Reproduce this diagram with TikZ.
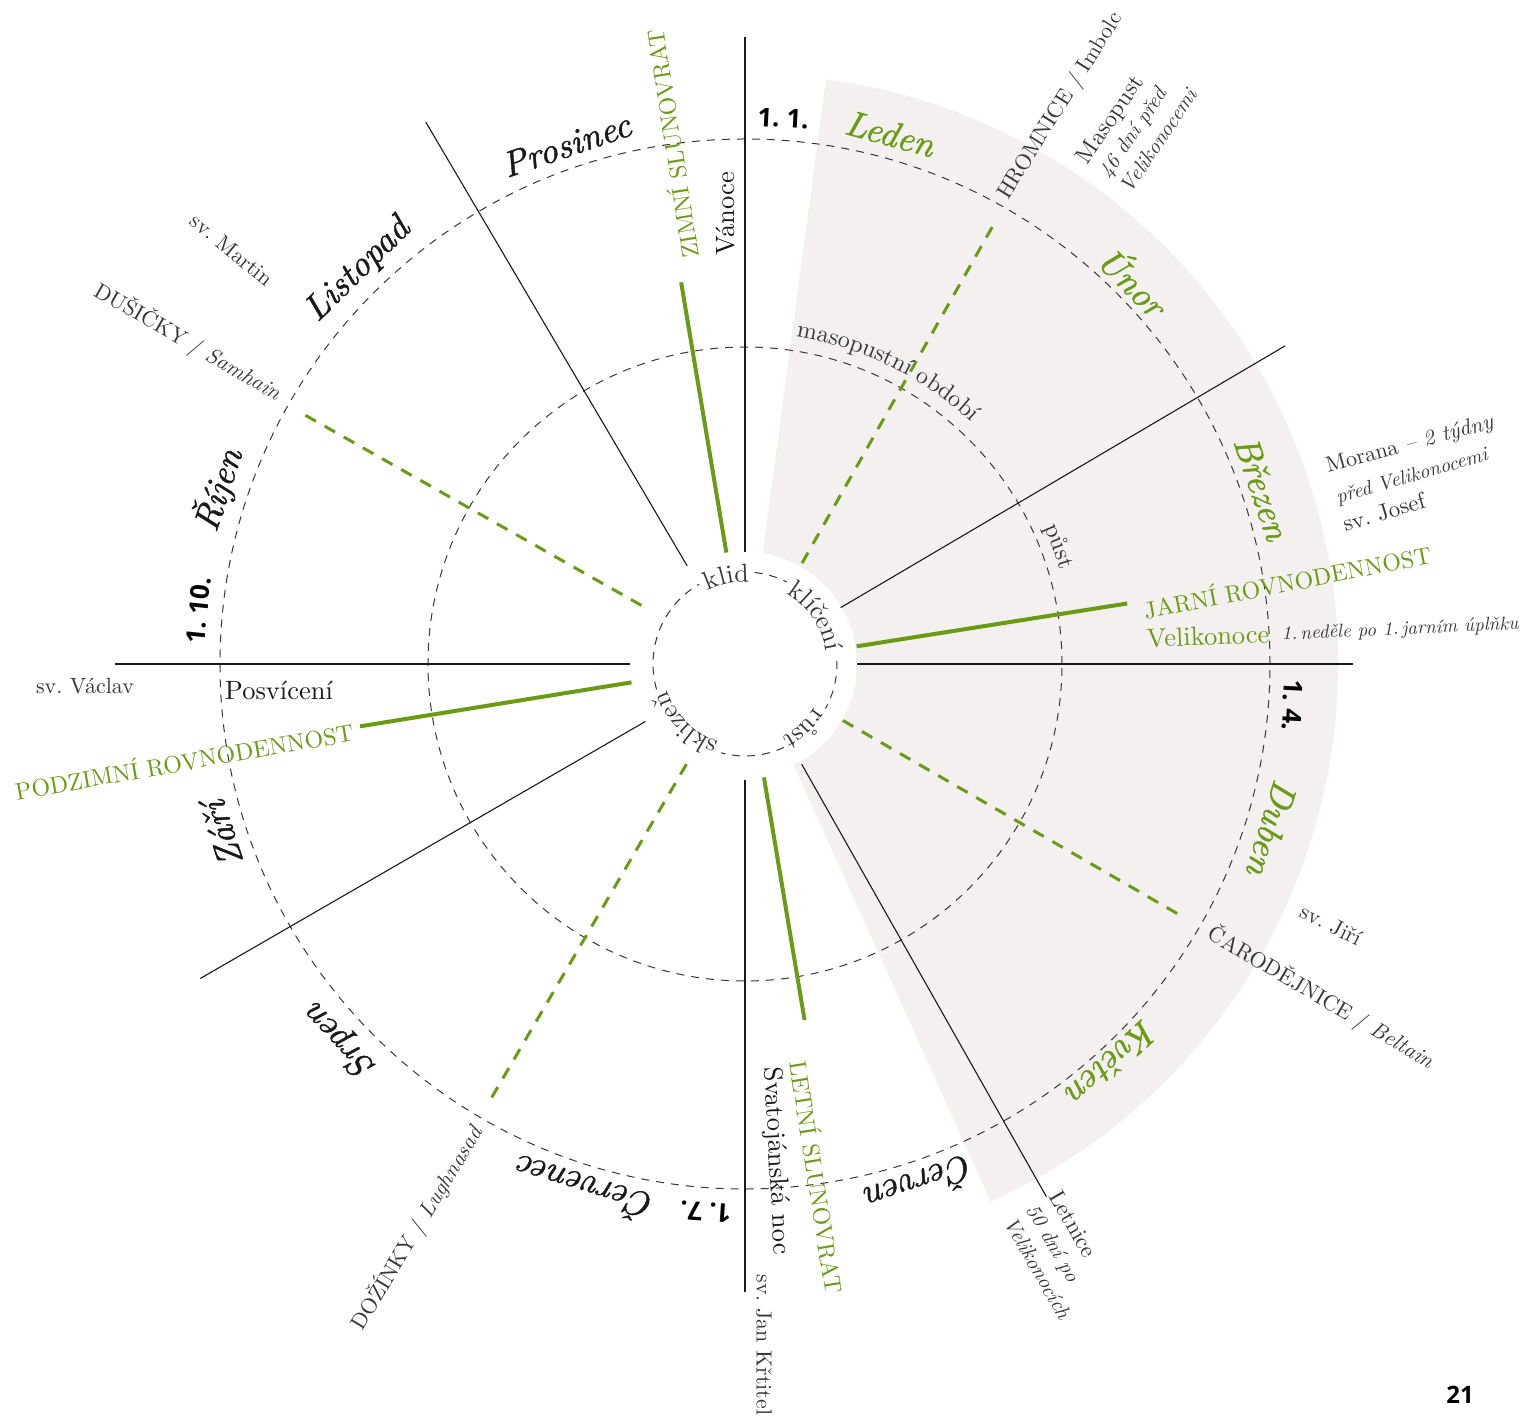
\documentclass[tikz,border=0pt]{standalone}
\usepackage{fontspec}
\setmainfont{lmroman10-regular.otf}[ItalicFont=lmroman10-italic.otf, BoldFont=lmroman10-bold.otf, BoldItalicFont=lmroman10-bolditalic.otf]
\newfontfamily\datefont{Open Sans}
\newfontfamily\monthfont{lmroman10-italic.otf}[FakeBold=1.2]
\usetikzlibrary{decorations.text}
\definecolor{grn}{RGB}{106,155,20}
\definecolor{sect}{RGB}{243,240,239}
\definecolor{ink}{RGB}{25,25,25}
\definecolor{dim}{RGB}{55,55,55}
\begin{document}
\frenchspacing
\begin{tikzpicture}[x=1pt,y=1pt,
  ring/.style={draw=dim, line width=1pt, dash pattern=on 8pt off 7pt},
  spoke/.style={draw=ink, line width=1.1pt},
  solst/.style={draw=grn, line width=4pt},
  quarter/.style={draw=grn, line width=3pt, dash pattern=on 12pt off 10pt},
  month/.style={font=\monthfont\bfseries\fontsize{36}{40}\selectfont, text=ink, inner sep=0},
  gmonth/.style={month, text=grn},
  datel/.style={font=\datefont\bfseries\fontsize{26}{30}\selectfont, text=black, inner sep=0},
  lbl/.style={font=\fontsize{22}{26}\selectfont, text=dim, inner sep=0},
  big/.style={font=\fontsize{26.5}{30}\selectfont, text=ink, inner sep=0},
  caps/.style={font=\fontsize{24}{28}\selectfont, text=grn, inner sep=0},
  ital/.style={font=\fontsize{20}{24}\selectfont\itshape, text=dim, inner sep=0},
  ]
\useasboundingbox (-745,-754) rectangle (783,664);
% shaded sector
\fill[sect] (3,0) -- ++(-65.7:590) arc[start angle=-65.7, end angle=82.4, radius=590] -- cycle;
\fill[white] (0,0) circle (112);
% rings
\draw[ring] (0,0) circle (317);
\draw[ring] (0,0) circle (525);
\draw[ring] (84:92) arc[start angle=84, end angle=63, radius=92];
\draw[ring] (2:92) arc[start angle=2, end angle=-29, radius=92];
\draw[ring] (-65:92) arc[start angle=-65, end angle=-105, radius=92];
\draw[ring] (196:92) arc[start angle=196, end angle=120, radius=92];
% spokes
\draw[spoke] (90:112) -- (90:627);
\draw[spoke] (120.5:114) -- (120.5:629);
\draw[spoke] (30.5:111) -- (30.5:627);
\draw[spoke] (0:112) -- (0:608);
\draw[spoke] (-60.5:115) -- (-60.5:612);
\draw[spoke] (-90:116) -- (-90:628);
\draw[spoke] (210:115) -- (210:629);
\draw[spoke] (180:115) -- (180:630);
% solstices / equinoxes
\draw[solst] (99.5:113) -- (99.5:387);
\draw[solst] (9:113) -- (9:387);
\draw[solst] (-80.5:115) -- (-80.5:361);
\draw[solst] (189.2:115) -- (189.2:390);
% cross-quarter days
\draw[quarter] (60.5:116) -- (60.5:503);
\draw[quarter] (-30:113) -- (-30:505);
\draw[quarter] (239.7:116) -- (239.7:506);
\draw[quarter] (150.5:119) -- (150.5:507);
% inner ring words
\path[decorate, decoration={text along path, text align=center, text color=dim, text={|\fontsize{26}{26}\selectfont|klid}}] (132:82) arc[start angle=132, end angle=72, radius=82];
\path[decorate, decoration={text along path, text align=center, text color=dim, text={|\fontsize{26}{26}\selectfont|klíčení}}] (64:82) arc[start angle=64, end angle=4, radius=82];
\path[decorate, decoration={text along path, text align=center, text color=dim, text={|\fontsize{26}{26}\selectfont|růst}}] (-18:82) arc[start angle=-18, end angle=-78, radius=82];
\path[decorate, decoration={text along path, text align=center, text color=dim, text={|\fontsize{26}{26}\selectfont|sklizeň}}] (255:82) arc[start angle=255, end angle=195, radius=82];
% middle ring words
\path[decorate, decoration={text along path, text align=center, text color=dim, text={|\fontsize{24}{24}\selectfont|masopustní období}}] (90:331) arc[start angle=90, end angle=38, radius=331];
\path[decorate, decoration={text along path, text align=center, text color=dim, text={|\fontsize{24}{24}\selectfont|půst}}] (30:329) arc[start angle=30, end angle=11, radius=329];
% months
\node[gmonth, rotate=-15.3] (leden) at (74.7:550) {Leden};
\node[gmonth, rotate=-45.4] (unor) at (44.6:547) {Únor};
\node[gmonth, rotate=-71.2] (brezen) at (18.8:546) {Březen};
\node[gmonth, rotate=-107.3] (duben) at (-17.3:552) {Duben};
\node[gmonth, rotate=-137.4] (kveten) at (-47.4:542) {Květen};
\node[month, rotate=-161.4] (cerven) at (-71.4:550) {Červen};
\node[month, rotate=163] (cervenec) at (253:550) {Červenec};
\node[month, rotate=132.9] (srpen) at (222.9:553) {Srpen};
\node[month, rotate=108] (zari) at (198:550) {Září};
\node[month, rotate=71.7] (rijen) at (161.7:555) {Říjen};
\node[month, rotate=44.5] (listopad) at (134.5:552) {Listopad};
\node[month, rotate=19] (prosinec) at (109:549) {Prosinec};
% dates
\node[datel, rotate=-3] (d1) at (86:547) {1. 1.};
\node[datel, rotate=-93] (d4) at (-4.3:549) {1. 4.};
\node[datel, rotate=176] (d7) at (265.9:549) {1. 7.};
\node[datel, rotate=84] (d10) at (174.4:549) {1. 10.};
% labels
\node[caps, rotate=99] (zimni) at (-74,520) {ZIMNÍ SLUNOVRAT};
\node[big, rotate=90] (vanoce) at (-19,450) {Vánoce};
\node[caps, rotate=11] (jarni) at (542,83) {JARNÍ ROVNODENNOST};
\node[big, text=grn, rotate=2] (velik) at (463,28) {Velikonoce};
\node[ital, font=\fontsize{19}{22}\selectfont\itshape, rotate=2.5] (nedele) at (655,34) {1.\,neděle po 1.\,jarním úplňku};
\node[caps, rotate=-81] (letni) at (73,-513) {LETNÍ SLUNOVRAT};
\node[big, rotate=-87] (svatojan) at (31,-497) {Svatojánská noc};
\node[lbl, rotate=-90] (jan) at (19,-681) {sv. Jan Křtitel};
\node[caps, rotate=10] (podzim) at (-561,-96) {PODZIMNÍ ROVNODENNOST};
\node[lbl] (vaclav) at (-660,-22) {sv. Václav};
\node[big] (posv) at (-466,-26) {Posvícení};
\node[lbl, rotate=-39.5] (martin) at (-513,414) {sv. Martin};
\node[lbl, rotate=-27] (jiri) at (586,-261) {sv. Jiří};
\node[lbl, anchor=west, rotate=58] (hromnice) at (61:533) {HROMNICE / Imbolc};
\node[lbl, anchor=east, rotate=-30] (dusicky) at (150:537) {DUŠIČKY / \textit{Samhain}};
\node[lbl, anchor=west, rotate=-30.5] (carod) at (-30:536) {ČARODĚJNICE / \textit{Beltain}};
\node[lbl, anchor=east, rotate=59] (dozinky) at (240:535) {DOŽÍNKY / \textit{Lughnasad}};
\node[lbl, anchor=north west, rotate=56, align=left] (masopust) at (329,508) {{\fontsize{24}{25}\selectfont Masopust}\\ {\fontsize{21}{25}\selectfont\itshape 46 dní před}\\ {\fontsize{21}{25}\selectfont\itshape Velikonocemi}};
\node[lbl, anchor=north west, rotate=-60, align=left] (letnice) at (317,-524) {{\fontsize{23}{26}\selectfont Letnice}\\ {\fontsize{21}{26}\selectfont\itshape 50 dní po}\\ {\fontsize{21}{26}\selectfont\itshape Velikonocích}};
\node[lbl, rotate=15] (morana) at (665,219) {Morana \textit{– 2 týdny}};
\node[ital, rotate=16] (pred) at (667,187) {před Velikonocemi};
\node[lbl, font=\fontsize{23}{26}\selectfont, rotate=17] (josef) at (639,152) {sv. Josef};
\node[datel, font=\datefont\bfseries\fontsize{24}{28}\selectfont] (page) at (715,-731) {21};
\end{tikzpicture}
\end{document}
